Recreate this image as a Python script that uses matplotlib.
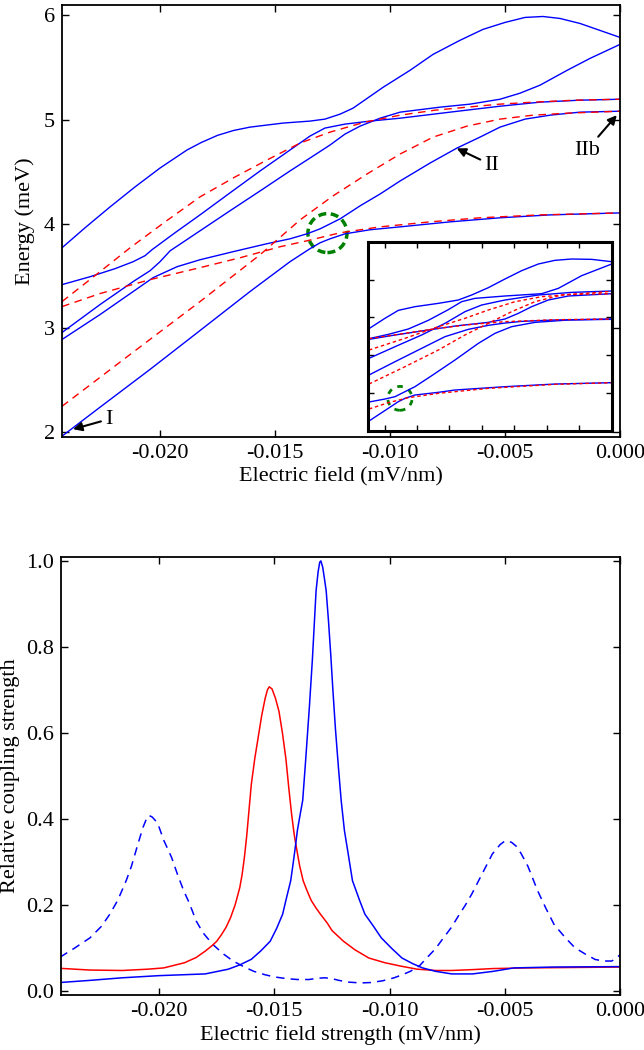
import matplotlib
matplotlib.use("Agg")
import numpy as np
import matplotlib.pyplot as plt
from matplotlib.patches import Ellipse

plt.rcParams["font.family"] = ["Liberation Serif", "DejaVu Serif"]
plt.rcParams["font.size"] = 16
plt.rcParams["axes.unicode_minus"] = False

BLUE = "#0000ff"
RED = "#ff0000"
GREEN = "#008000"

# ------------------------------------------------------------------
# Top panel: energy levels vs electric field (mV/nm, meV)
# ------------------------------------------------------------------
t1_x = [-0.02426, -0.02326, -0.02217, -0.02109, -0.02000, -0.01883, -0.01820, -0.01750,
        -0.01680, -0.01609, -0.01465, -0.01348, -0.01283, -0.01217, -0.01161, -0.01030,
        -0.00913, -0.00813, -0.00696, -0.00596, -0.00500, -0.00413, -0.00335, -0.00261,
        -0.00174, -0.00087, 0.0]
t1_y = [3.768, 3.960, 4.161, 4.352, 4.534, 4.707, 4.780, 4.848, 4.895, 4.927, 4.966, 4.985,
        5.004, 5.052, 5.109, 5.310, 5.473, 5.626, 5.761, 5.866, 5.933, 5.981, 5.990, 5.971,
        5.923, 5.856, 5.789]

b_x = [-0.02426, -0.02304, -0.02196, -0.02117, -0.02065, -0.02035, -0.01935, -0.01826,
       -0.01696, -0.01565, -0.01435, -0.01348, -0.01283, -0.01196, -0.01087, -0.00956,
       -0.00739, -0.00522, -0.00348, -0.00174, 0.0]
b_y = [3.414, 3.490, 3.567, 3.634, 3.692, 3.749, 3.912, 4.084, 4.295, 4.506, 4.707, 4.841,
       4.918, 4.956, 4.985, 5.013, 5.071, 5.128, 5.167, 5.186, 5.195]

d_x = [-0.02426, -0.02261, -0.02117, -0.02043, -0.02000, -0.01956, -0.01826, -0.01696,
       -0.01565, -0.01435, -0.01348, -0.01261, -0.01196, -0.01130, -0.01043, -0.00956,
       -0.00782, -0.00652, -0.00522, -0.00435, -0.00348, -0.00230, -0.00130, 0.0]
d_y = [2.954, 3.222, 3.443, 3.548, 3.634, 3.739, 3.931, 4.123, 4.314, 4.506, 4.630, 4.755,
       4.860, 4.937, 5.013, 5.071, 5.119, 5.148, 5.195, 5.253, 5.330, 5.473, 5.588, 5.722]

e_x = [-0.02426, -0.02261, -0.02117, -0.02030, -0.01926, -0.01826, -0.01683, -0.01535,
       -0.01435, -0.01361, -0.01304, -0.01217, -0.01130, -0.01043, -0.00956, -0.00826,
       -0.00709, -0.00609, -0.00522, -0.00413, -0.00304, -0.00174, 0.0]
e_y = [2.887, 3.126, 3.347, 3.481, 3.586, 3.653, 3.730, 3.807, 3.854, 3.902, 3.950, 4.046,
       4.171, 4.285, 4.410, 4.582, 4.726, 4.831, 4.927, 5.004, 5.042, 5.071, 5.080]

i_x = [-0.02426, -0.02261, -0.02043, -0.01826, -0.01609, -0.01435, -0.01348, -0.01304,
       -0.01261, -0.01196, -0.01087, -0.00956, -0.00739, -0.00522, -0.00304, 0.0]
i_y = [1.958, 2.236, 2.600, 2.973, 3.347, 3.634, 3.759, 3.816, 3.854, 3.902, 3.941, 3.969,
       4.017, 4.056, 4.084, 4.103]

r1_x = [-0.02426, -0.02261, -0.02130, -0.01978, -0.01826, -0.01674, -0.01535, -0.01391,
        -0.01261, -0.01109, -0.00956, -0.00804, -0.00665, -0.00522, -0.00378, -0.00196, 0.0]
r1_y = [3.251, 3.538, 3.768, 4.017, 4.257, 4.448, 4.611, 4.774, 4.879, 4.975, 5.042, 5.090,
        5.119, 5.148, 5.167, 5.186, 5.195]

r2_x = [-0.02426, -0.02261, -0.02043, -0.01826, -0.01652, -0.01478, -0.01361, -0.01217,
        -0.01043, -0.00826, -0.00609, -0.00348, 0.0]
r2_y = [3.203, 3.328, 3.462, 3.577, 3.672, 3.778, 3.835, 3.912, 3.969, 4.017, 4.056, 4.084, 4.103]

r3_x = [-0.02426, -0.02130, -0.01826, -0.01565, -0.01391, -0.01248, -0.01100, -0.00956,
        -0.00813, -0.00665, -0.00522, -0.00378, -0.00230, 0.0]
r3_y = [2.245, 2.743, 3.251, 3.701, 4.036, 4.266, 4.477, 4.669, 4.831, 4.937, 5.004, 5.042,
        5.061, 5.080]

blue_levels = [(t1_x, t1_y), (b_x, b_y), (d_x, d_y), (e_x, e_y), (i_x, i_y)]
red_levels = [(r1_x, r1_y), (r2_x, r2_y), (r3_x, r3_y)]

# ------------------------------------------------------------------
# Inset: wider field range
# ------------------------------------------------------------------
ia_x = [-0.02992, -0.02795, -0.02630, -0.02425, -0.02137, -0.01891, -0.01727, -0.01521,
        -0.01316, -0.01110, -0.00905, -0.00700, -0.00494, -0.00248, 0.0]
ia_y = [4.703, 4.976, 5.187, 5.284, 5.372, 5.460, 5.592, 5.786, 6.015, 6.235, 6.411, 6.508,
        6.543, 6.534, 6.472]
ij_x = [-0.02992, -0.02754, -0.02507, -0.02261, -0.02014, -0.01850, -0.01685, -0.01316,
        -0.00864, -0.00658, -0.00371, 0.0]
ij_y = [4.439, 4.553, 4.694, 4.923, 5.205, 5.416, 5.504, 5.566, 5.627, 5.768, 6.103, 6.411]
ib_x = [-0.02992, -0.02671, -0.02343, -0.01932, -0.01521, -0.01316, -0.01151, -0.00987,
        -0.00782, -0.00535, 0.0]
ib_y = [4.421, 4.536, 4.641, 4.773, 4.870, 4.958, 5.108, 5.284, 5.460, 5.566, 5.627]
id_x = [-0.02992, -0.02671, -0.02343, -0.02055, -0.01809, -0.01603, -0.01316, -0.00905,
        -0.00494, 0.0]
id_y = [3.919, 4.227, 4.536, 4.844, 5.152, 5.328, 5.460, 5.592, 5.662, 5.698]
ie_x = [-0.02992, -0.02671, -0.02343, -0.02055, -0.01768, -0.01521, -0.01316, -0.01110,
        -0.00700, 0.0]
ie_y = [3.479, 3.831, 4.183, 4.492, 4.685, 4.791, 4.852, 4.896, 4.932, 4.958]
ig_x = [-0.02992, -0.02795, -0.02671, -0.02548, -0.02425, -0.02219, -0.01932, -0.01644,
        -0.01439, -0.01234, -0.00946, -0.00535, 0.0]
ig_y = [2.766, 2.845, 2.907, 3.039, 3.171, 3.461, 3.875, 4.315, 4.580, 4.756, 4.870, 4.932, 4.950]
ii_x = [-0.02992, -0.02754, -0.02630, -0.02548, -0.02425, -0.02137, -0.01932, -0.01316,
        -0.00700, 0.0]
ii_y = [2.264, 2.599, 2.775, 2.863, 2.951, 3.022, 3.083, 3.171, 3.241, 3.277]

ir1_x = [-0.02992, -0.02548, -0.02137, -0.01727, -0.01316, -0.00700, 0.0]
ir1_y = [4.439, 4.580, 4.712, 4.817, 4.888, 4.940, 4.958]
ir2_x = [-0.02992, -0.02548, -0.02137, -0.01809, -0.01521, -0.01192, -0.00864, -0.00494, 0.0]
ir2_y = [4.139, 4.448, 4.756, 4.976, 5.196, 5.416, 5.548, 5.610, 5.627]
ir3_x = [-0.02992, -0.02548, -0.02137, -0.01809, -0.01521, -0.01234, -0.00946, -0.00617, 0.0]
ir3_y = [3.241, 3.699, 4.139, 4.536, 4.844, 5.152, 5.416, 5.592, 5.689]
ir4_x = [-0.02992, -0.02754, -0.02507, -0.02137, -0.01521, -0.00700, 0.0]
ir4_y = [2.581, 2.748, 2.880, 2.995, 3.127, 3.233, 3.277]

inset_blue = [(ia_x, ia_y), (ij_x, ij_y), (ib_x, ib_y), (id_x, id_y), (ie_x, ie_y),
              (ig_x, ig_y), (ii_x, ii_y)]
inset_red = [(ir1_x, ir1_y), (ir2_x, ir2_y), (ir3_x, ir3_y), (ir4_x, ir4_y)]

# ------------------------------------------------------------------
# Bottom panel: relative coupling strength
# ------------------------------------------------------------------
cd_x = [-0.0243, -0.0237, -0.0230, -0.0225, -0.02214, -0.0218, -0.02143, -0.0212, -0.0209,
        -0.0207, -0.02055, -0.02045, -0.0203, -0.0201, -0.0200, -0.0198, -0.01946, -0.0192,
        -0.01893, -0.0187, -0.01839, -0.0181, -0.01768, -0.0172, -0.01679, -0.0163, -0.01589,
        -0.0154, -0.0150, -0.01446, -0.0140, -0.0135, -0.0131, -0.0128, -0.0125, -0.0122,
        -0.0118, -0.01125, -0.0108, -0.0103, -0.0098, -0.00945, -0.0091, -0.0087, -0.00839,
        -0.0080, -0.0077, -0.00732, -0.0070, -0.0067, -0.00643, -0.0060, -0.00554, -0.0052,
        -0.0050, -0.0049, -0.0047, -0.0045, -0.0043, -0.0040, -0.00357, -0.0032, -0.00286,
        -0.0024, -0.00196, -0.0015, -0.00107, -0.0007, -0.00036, -0.00015, 0.0]
cd_y = [0.078, 0.098, 0.123, 0.150, 0.178, 0.21, 0.256, 0.29, 0.345, 0.38, 0.40, 0.408,
        0.404, 0.392, 0.38, 0.35, 0.31, 0.27, 0.232, 0.205, 0.162, 0.135, 0.108, 0.085,
        0.069, 0.055, 0.045, 0.037, 0.032, 0.028, 0.026, 0.026, 0.029, 0.030, 0.028, 0.024,
        0.020, 0.018, 0.019, 0.023, 0.030, 0.037, 0.045, 0.058, 0.076, 0.098, 0.12, 0.147,
        0.175, 0.20, 0.225, 0.27, 0.318, 0.34, 0.348, 0.349, 0.345, 0.336, 0.32, 0.29, 0.232,
        0.19, 0.154, 0.125, 0.10, 0.085, 0.0725, 0.069, 0.069, 0.075, 0.084]

cr_x = [-0.0243, -0.0230, -0.0216, -0.0205, -0.0198, -0.0189, -0.0184, -0.0180, -0.0177,
        -0.0175, -0.0173, -0.0171, -0.0169, -0.0167, -0.0165, -0.0164, -0.0163, -0.0162,
        -0.0161, -0.0160, -0.01585, -0.0157, -0.01555, -0.0154, -0.0153, -0.01522, -0.0151,
        -0.01495, -0.0148, -0.01465, -0.0145, -0.01437, -0.01425, -0.01413, -0.0140, -0.0139,
        -0.01375, -0.0136, -0.0134, -0.0132, -0.0130, -0.0127, -0.0125, -0.0122, -0.0120,
        -0.0115, -0.0109, -0.0102, -0.0095, -0.0088, -0.0080, -0.0073, -0.0064, -0.0055,
        -0.0040, -0.0020, 0.0]
cr_y = [0.052, 0.048, 0.047, 0.050, 0.053, 0.065, 0.077, 0.092, 0.105, 0.115, 0.13, 0.147,
        0.17, 0.20, 0.24, 0.27, 0.31, 0.36, 0.42, 0.48, 0.54, 0.59, 0.64, 0.68, 0.70, 0.707,
        0.702, 0.68, 0.65, 0.60, 0.54, 0.47, 0.41, 0.36, 0.32, 0.29, 0.256, 0.235, 0.21,
        0.193, 0.178, 0.157, 0.14, 0.125, 0.115, 0.095, 0.076, 0.065, 0.057, 0.05, 0.047,
        0.047, 0.049, 0.0515, 0.053, 0.054, 0.055]

cb_x = [-0.0243, -0.0230, -0.0216, -0.0200, -0.0180, -0.0170, -0.0165, -0.0160, -0.0156,
        -0.01518, -0.0149, -0.01464, -0.0145, -0.01429, -0.0142, -0.0141, -0.0140, -0.01388,
        -0.01377, -0.01365, -0.01348, -0.01335, -0.01319, -0.0131, -0.01303, -0.01298,
        -0.0129, -0.01283, -0.01275, -0.01265, -0.01255, -0.01246, -0.01235, -0.01222,
        -0.0121, -0.01196, -0.0118, -0.01161, -0.0113, -0.01107, -0.0107, -0.01036, -0.0099,
        -0.00946, -0.0090, -0.00857, -0.0080, -0.0073, -0.0064, -0.0055, -0.0046, -0.0029, 0.0]
cb_y = [0.019, 0.024, 0.030, 0.035, 0.039, 0.050, 0.060, 0.073, 0.092, 0.115, 0.145, 0.178,
        0.21, 0.256, 0.29, 0.33, 0.373, 0.41, 0.4426, 0.53, 0.66, 0.77, 0.93, 0.975, 0.997,
        1.0, 0.985, 0.96, 0.93, 0.86, 0.78, 0.70, 0.61, 0.52, 0.4426, 0.373, 0.32, 0.256,
        0.21, 0.178, 0.15, 0.123, 0.098, 0.076, 0.063, 0.053, 0.045, 0.039, 0.039, 0.045,
        0.053, 0.055, 0.056]

x_ticks = [-0.020, -0.015, -0.010, -0.005, 0.000]


def style_axes(ax):
    ax.tick_params(direction="in", top=True, right=True, length=5, width=1, pad=5)
    for s in ax.spines.values():
        s.set_linewidth(1.3)


fig = plt.figure(figsize=(6.44, 10.5), dpi=100)

# ---------------- top panel ----------------
ax1 = fig.add_axes([0.0963, 0.5838, 0.8665, 0.4114])
for xs, ys in blue_levels:
    ax1.plot(xs, ys, color=BLUE, lw=1.0)
for xs, ys in red_levels:
    ax1.plot(xs, ys, color=RED, lw=1.0, ls=(0, (5.5, 4.0)))
ax1.add_patch(Ellipse((-0.01272, 3.909), 0.0017, 0.374, fill=False, ec=GREEN,
                      lw=2.5, ls=(0, (2.3, 1.3))))
ax1.set_xlim(-0.02426, 0.0)
ax1.set_ylim(1.95, 6.1)
ax1.set_xticks(x_ticks)
ax1.set_xticklabels([f"{v:.3f}" for v in x_ticks])
ax1.set_yticks([2, 3, 4, 5, 6])
ax1.set_xlabel("Electric field (mV/nm)", labelpad=3)
ax1.set_ylabel("Energy (meV)")
ax1.yaxis.set_label_coords(-0.048, 0.5)
style_axes(ax1)

arrow = dict(arrowstyle="-|>", color="k", lw=1.5, mutation_scale=13, shrinkA=1, shrinkB=0)
ax1.annotate("I", xy=(-0.02378, 2.025), xytext=(-0.02239, 2.121), ha="left", va="center",
             arrowprops=arrow)
ax1.annotate("II", xy=(-0.00710, 4.723), xytext=(-0.00558, 4.563), ha="center", va="center",
             arrowprops=arrow)
ax1.annotate("IIb", xy=(-0.00014, 5.042), xytext=(-0.00145, 4.707), ha="center", va="center",
             arrowprops=arrow)

# ---------------- inset ----------------
axin = fig.add_axes([0.5719, 0.5895, 0.378, 0.1803])
for xs, ys in inset_blue:
    axin.plot(xs, ys, color=BLUE, lw=1.0)
for xs, ys in inset_red:
    axin.plot(xs, ys, color=RED, lw=1.0, ls=(0, (2.5, 2.0)))
axin.add_patch(Ellipse((-0.0261, 2.863), 0.0030, 0.63, fill=False, ec=GREEN,
                       lw=2.0, ls=(0, (2.0, 2.2))))
axin.set_xlim(-0.03, 0.0)
axin.set_ylim(2, 7)
axin.set_xticks(np.arange(-0.028, -0.003, 0.004))
axin.set_yticks([3, 4, 5, 6])
axin.tick_params(direction="in", top=True, right=True, length=4, width=1,
                 labelbottom=False, labelleft=False)
for s in axin.spines.values():
    s.set_linewidth(2.2)

# ---------------- bottom panel ----------------
ax2 = fig.add_axes([0.0947, 0.0524, 0.868, 0.4171])
ax2.plot(cd_x, cd_y, color=BLUE, lw=1.1, ls=(0, (5.5, 4.0)))
ax2.plot(cr_x, cr_y, color=RED, lw=1.1)
ax2.plot(cb_x, cb_y, color=BLUE, lw=1.1)
ax2.set_xlim(-0.02426, 0.0)
ax2.set_ylim(-0.01, 1.009)
ax2.set_xticks(x_ticks)
ax2.set_xticklabels([f"{v:.3f}" for v in x_ticks])
ax2.set_yticks([0.0, 0.2, 0.4, 0.6, 0.8, 1.0])
ax2.set_yticklabels(["0.0", "0.2", "0.4", "0.6", "0.8", "1.0"])
ax2.set_xlabel("Electric field strength (mV/nm)", labelpad=3)
ax2.set_ylabel("Relative coupling strength")
ax2.yaxis.set_label_coords(-0.074, 0.5)
style_axes(ax2)

fig.savefig("out.png", dpi=100)
